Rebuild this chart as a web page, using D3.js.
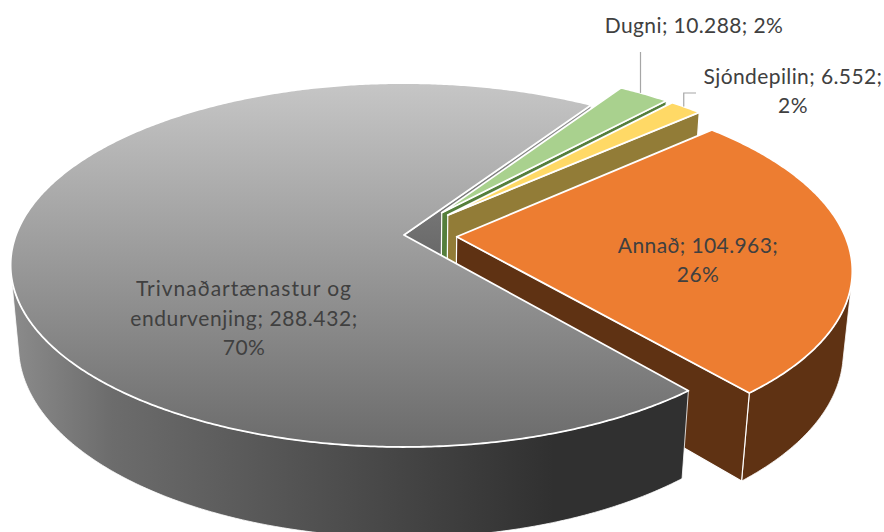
<!DOCTYPE html>
<meta charset="utf-8">
<style>
body { margin: 0; background: #fff; }
text { font: 21px Lato, sans-serif; fill: #404040; text-anchor: middle; letter-spacing: 0.4px; }
</style>
<body>
<script src="https://d3js.org/d3.v7.min.js" charset="utf-8"></script>
<script>

var names = ["Trivnaðartænastur og endurvenjing", "Dugni", "Sjóndepilin", "Annað"];
var values = [288.432, 10.288, 6.552, 104.963];
var percents = ["70%", "2%", "2%", "26%"];
var valueLabels = ["288.432", "10.288", "6.552", "104.963"];

var width = 884,
    height = 532;

// how far each slice is pulled out of the pie, in radii
var explode = [0, 0.162, 0.162, 0.136];
var topColors = [null, "#a9d18e", "#ffd966", "#ed7d31"];
var wallColors = [null, "#557f3c", "#927c37", "#5f3213"];

// perspective: far edge smaller, walls lean in towards the bottom
var persp = 0.165, persp2 = 0.02, depth = 81.6;
var sx = d3.scaleLinear().domain([-1, 1]).range([404 - 388, 404 + 388]);
var sy = d3.scaleLinear().domain([-1, 1]).range([235 + 177, 235 - 177]);

var rad = Math.PI / 180;
var start = 140.2 * rad;

var pie = d3.pie().sort(null).startAngle(start).endAngle(start + 2 * Math.PI);
var slices = pie(values);

slices.forEach(function(d, i) {
  var mid = (d.startAngle + d.endAngle) / 2;
  d.ou = explode[i] * Math.sin(mid);
  d.ov = explode[i] * Math.cos(mid);
});

function project(u, v, h) {
  var w = 1 + persp * v + persp2 * h;
  return [sx(u / w), sy(v / w) + depth * h / w];
}

function onRim(d, a, h) {
  return project(d.ou + Math.sin(a), d.ov + Math.cos(a), h);
}

function apex(d, h) {
  return project(d.ou, d.ov, h);
}

function angles(a0, a1) {
  var n = Math.max(2, Math.ceil((a1 - a0) / (0.5 * rad)));
  return d3.range(n + 1).map(function(j) { return a0 + (a1 - a0) * j / n; });
}

var line = d3.line();

var svg = d3.select("body").append("svg")
    .attr("width", width)
    .attr("height", height)
    .style("display", "block");

var defs = svg.append("defs");

function gradient(id, x1, y1, x2, y2, stops) {
  var g = defs.append("linearGradient")
      .attr("id", id)
      .attr("gradientUnits", "userSpaceOnUse")
      .attr("x1", x1).attr("y1", y1).attr("x2", x2).attr("y2", y2);
  stops.forEach(function(s) {
    g.append("stop").attr("offset", s[0]).attr("stop-color", s[1]);
  });
}

gradient("grayTop", 0, 83, 0, 447, [[0, "#c6c6c6"], [1, "#6b6b6b"]]);
gradient("grayWall", 10, 0, 690, 0, [[0, "#8c8c8c"], [0.15, "#6c6c6c"], [0.5, "#4c4c4c"], [0.8, "#303030"], [1, "#303030"]]);
gradient("grayInner", 0, 106, 0, 265, [[0, "#929292"], [1, "#666666"]]);

function drawTop(d, fill) {
  var pts = [apex(d, 0)].concat(angles(d.startAngle, d.endAngle).map(function(a) { return onRim(d, a, 0); }));
  svg.append("path")
      .attr("d", line(pts) + "Z")
      .attr("fill", fill)
      .attr("stroke", "#fff")
      .attr("stroke-width", 1.8)
      .attr("stroke-linejoin", "round");
}

function drawRadial(d, a, fill) {
  var pts = [apex(d, 0), onRim(d, a, 0), onRim(d, a, 1), apex(d, 1)];
  svg.append("path")
      .attr("d", line(pts) + "Z")
      .attr("fill", fill)
      .attr("stroke", "#fff")
      .attr("stroke-width", 1.2);
}

// outer wall: only the part that faces us
function drawOuter(d, fill) {
  var as = angles(d.startAngle, d.endAngle);
  var run = [];
  for (var j = 0; j < as.length - 1; j++) {
    var quad = [onRim(d, as[j], 0), onRim(d, as[j + 1], 0), onRim(d, as[j + 1], 1), onRim(d, as[j], 1)];
    if (d3.polygonArea(quad) > 0) {
      if (!run.length) run.push(as[j]);
      run.push(as[j + 1]);
    }
  }
  if (!run.length) return;
  var pts = run.map(function(a) { return onRim(d, a, 0); })
      .concat(run.slice().reverse().map(function(a) { return onRim(d, a, 1); }));
  svg.append("path")
      .attr("d", line(pts) + "Z")
      .attr("fill", fill)
      .attr("stroke", "#fff")
      .attr("stroke-width", 0.8);
}

var gray = slices[0];

drawRadial(gray, gray.endAngle, "url(#grayInner)");

[1, 2, 3].forEach(function(i) {
  var d = slices[i];
  drawOuter(d, wallColors[i]);
  drawRadial(d, d.endAngle, wallColors[i]);
  drawTop(d, topColors[i]);
});

drawOuter(gray, "url(#grayWall)");
drawTop(gray, "url(#grayTop)");

// leader lines
function leaderEnd(d) {
  return onRim(d, d.startAngle + 0.42 * (d.endAngle - d.startAngle), 0);
}

var dugniEnd = leaderEnd(slices[1]),
    sjonEnd = leaderEnd(slices[2]);

svg.append("path")
    .attr("d", line([[dugniEnd[0], 52], dugniEnd]))
    .attr("fill", "none").attr("stroke", "#a6a6a6").attr("stroke-width", 1.2);
svg.append("path")
    .attr("d", line([[696, 93], [sjonEnd[0], 93], sjonEnd]))
    .attr("fill", "none").attr("stroke", "#a6a6a6").attr("stroke-width", 1.2);

// labels
function label(lines, x, y, lh, spacing) {
  var t = svg.append("text");
  lines.forEach(function(s, j) {
    var span = t.append("tspan").attr("x", x).attr("y", y + j * lh).text(s);
    if (spacing) span.style("letter-spacing", spacing[j] + "px");
  });
}

label(["Trivnaðartænastur og", "endurvenjing; " + valueLabels[0] + ";", percents[0]], 244, 296, 29.5, [1, 0.6, 0.4]);
label([names[1] + "; " + valueLabels[1] + "; " + percents[1]], 694, 33, 29);
label([names[2] + "; " + valueLabels[2] + ";", percents[2]], 793, 84, 29);
label([names[3] + "; " + valueLabels[3] + ";", percents[3]], 698, 253, 29);

</script>
</body>
